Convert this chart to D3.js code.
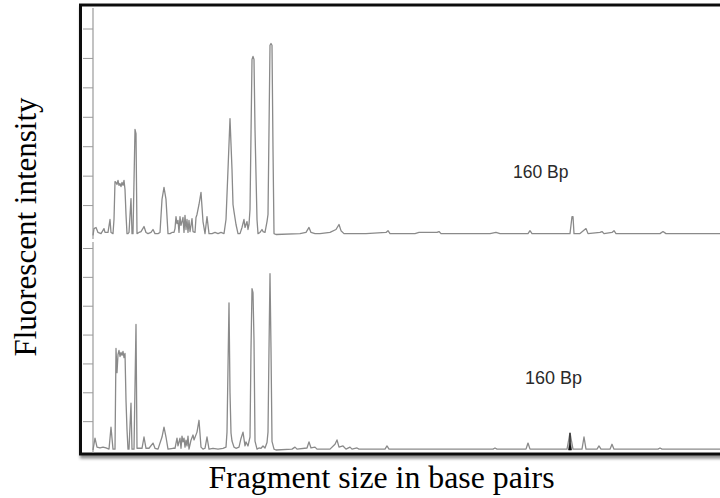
<!DOCTYPE html>
<html>
<head>
<meta charset="utf-8">
<script src="https://cdn.jsdelivr.net/npm/d3@7"></script>
<style>
  body { margin: 0; background: #fff; }
  svg { display: block; }
  .trace { fill: none; stroke: #8a8a8a; stroke-width: 1.3; stroke-linejoin: round; }
  .axis line, .axis path { stroke: #9a9a9a; }
</style>
</head>
<body>
<svg id="chart"></svg>
<script>
// tick values (RFU), no labels shown in the original
var tickValues = [1000, 2000, 3000, 4000, 5000, 6000, 7000];
var peakLabel = "160 Bp";

// top electropherogram: [scan point, intensity RFU]
var topTrace = [
  [0,-30],[1,200],[3,240],[5,70],[8,30],[11,200],[12,70],[15,70],[17,510],[18,70],[20,30],
  [21,510],[22,1800],[23,1770],[24,1700],[25,1840],[26,1670],[27,1730],[28,1630],[29,1770],[30,1670],[31,1840],[32,1530],[33,680],[34,30],[35,30],[36,70],[38,1220],[39,30],[40,30],[42,3570],[43,3430],[44,30],[46,70],
  [48,100],[51,270],[53,70],[55,30],[58,70],[60,170],[62,30],[65,30],[67,70],[69,1190],[71,1600],[73,1190],[75,30],[77,30],[79,70],
  [81,70],[82,200],[83,610],[84,370],[85,480],[86,70],[87,610],[88,310],[89,440],[90,580],[91,70],[92,650],[93,170],[94,510],[95,70],[96,480],[97,100],[98,310],[99,540],[100,100],[102,70],[103,580],[104,680],[106,1020],[108,1430],[110,440],[112,30],[114,610],[116,30],
  [119,30],[122,70],[125,30],[128,70],[131,30],
  [133,510],[135,2210],[137,3940],[139,2210],[140,1020],[141,780],[143,340],[145,30],[147,30],[149,240],[151,510],[152,240],[154,440],[155,170],[156,340],[157,850],[159,5950],[160,6050],[161,5950],[162,3570],[164,510],[165,30],[167,70],[169,170],[170,100],[172,70],[174,440],[175,680],[177,6430],[178,6490],[179,6430],[180,2890],[181,30],
  [183,0],[207,30],[213,70],[216,240],[218,70],[222,30],[227,30],[237,70],[243,170],[246,340],[248,130],[251,30],[257,30],[263,30],[273,30],[293,70],[295,130],[297,30],[322,30],[326,70],[344,70],[346,100],[348,30],[397,30],[403,70],[407,30],[435,30],[437,130],[439,30],[477,30],[479,610],[480,610],[481,30],[487,30],[493,200],[495,30],[507,70],[509,100],[511,30],[519,70],[521,130],[523,30],[567,30],[570,100],[573,30],[640,30]
];

// bottom electropherogram: [scan point, intensity RFU]
var bottomTrace = [
  [0,0],[2,410],[4,100],[7,70],[10,100],[13,70],[16,30],[18,790],[20,30],[22,30],
  [23,3520],[24,2680],[25,3310],[26,3450],[27,3240],[28,3380],[29,3280],[30,3420],[31,3200],[32,3350],[33,1720],[34,700],[35,30],[36,30],[38,1620],[39,30],[41,30],[43,4350],[44,60],[46,60],
  [49,60],[51,450],[53,60],[56,60],[60,240],[62,60],[65,30],[69,450],[71,790],[73,450],[75,30],[80,60],
  [82,60],[84,410],[85,140],[86,280],[87,410],[88,60],[89,480],[90,280],[91,410],[92,100],[93,340],[94,140],[95,480],[96,30],[98,340],[100,520],[101,350],[104,620],[106,1030],[108,100],[110,30],[112,60],[114,450],[116,30],
  [120,60],[125,30],[130,60],[133,100],
  [134,620],[136,5100],[137,2000],[138,590],[139,310],[141,100],[143,60],[146,100],[148,400],[150,620],[152,140],[153,280],[155,140],[157,450],[158,3500],[159,5590],[160,5450],[161,3800],[162,310],[164,30],[166,70],[168,60],[170,140],[172,70],[174,260],[175,620],[176,3500],[177,6110],[178,3500],[179,300],[181,30],
  [183,0],[199,30],[202,100],[204,30],[214,70],[216,280],[218,70],[222,100],[224,30],[237,30],[242,200],[244,350],[246,100],[250,140],[253,30],[257,100],[259,30],[264,70],[266,30],[292,30],[294,140],[296,30],[400,30],[402,70],[404,30],[433,30],[435,240],[437,30],[474,30],[477,590],[480,30],[489,30],[491,450],[493,30],[504,30],[506,140],[508,30],[517,30],[519,200],[521,30],[565,30],[567,70],[569,30],[640,30]
];

// the dark 160 bp peak in the bottom run
var bottomMarkedPeak = [[475.5,0],[476.5,250],[477,590],[477.5,250],[478.5,0]];

var width = 720, height = 498;
var svg = d3.select("#chart").attr("width", width).attr("height", height);

var x = d3.scaleLinear().domain([0, 640]).range([93, 733]);
var yTop = d3.scaleLinear().domain([0, 7000]).range([234.5, 28.5]);
var yBot = d3.scaleLinear().domain([0, 7000]).range([450, 248]);

var defs = svg.append("defs");
var shadow = defs.append("filter").attr("id", "shadow")
    .attr("x", "-5%").attr("y", "-5%").attr("width", "110%").attr("height", "110%");
shadow.append("feDropShadow").attr("dx", 1).attr("dy", 3)
    .attr("stdDeviation", 1.8).attr("flood-color", "#000").attr("flood-opacity", 0.45);

// frame
svg.append("rect")
    .attr("x", 80.5).attr("y", 5)
    .attr("width", 660).attr("height", 449)
    .attr("fill", "#fff")
    .attr("stroke", "#111")
    .attr("stroke-width", 3)
    .attr("filter", "url(#shadow)");

function drawPanel(y, data, top, bottom){
    var g = svg.append("g");
    g.append("line")
        .attr("x1", x(0)).attr("x2", x(0))
        .attr("y1", top).attr("y2", bottom)
        .attr("stroke", "#9a9a9a").attr("stroke-width", 1.2);

    g.append("g")
        .attr("class", "axis")
        .attr("transform", "translate(" + x(0) + ",0)")
        .call(d3.axisLeft(y).tickValues(tickValues).tickSize(10).tickSizeOuter(0).tickFormat(""))
        .call(function(a){ a.select(".domain").remove(); });

    var line = d3.line()
        .x(function(d){ return x(d[0]); })
        .y(function(d){ return y(d[1]); });

    g.append("path")
        .datum(data)
        .attr("class", "trace")
        .attr("d", line);
    return g;
}

drawPanel(yTop, topTrace, 8, 239);
var bot = drawPanel(yBot, bottomTrace, 242, 453);

bot.append("path")
    .datum(bottomMarkedPeak)
    .attr("fill", "#111")
    .attr("stroke", "#111")
    .attr("stroke-width", 0.6)
    .attr("d", d3.area()
        .x(function(d){ return x(d[0]); })
        .y0(yBot(0))
        .y1(function(d){ return yBot(d[1]); }));

// peak labels
svg.append("text")
    .attr("x", 513).attr("y", 178)
    .attr("font-family", "Liberation Sans, Arial, sans-serif")
    .attr("font-size", 17.5)
    .attr("fill", "#2a2a2a")
    .text(peakLabel);

svg.append("text")
    .attr("x", 525).attr("y", 384)
    .attr("font-family", "Liberation Sans, Arial, sans-serif")
    .attr("font-size", 18)
    .attr("fill", "#2a2a2a")
    .text(peakLabel);

// axis titles
svg.append("text")
    .attr("transform", "translate(36,227) rotate(-90)")
    .attr("text-anchor", "middle")
    .attr("font-family", "Liberation Serif, Times New Roman, serif")
    .attr("font-size", 31)
    .attr("fill", "#000")
    .text("Fluorescent intensity");

svg.append("text")
    .attr("x", 381.5).attr("y", 488)
    .attr("text-anchor", "middle")
    .attr("font-family", "Liberation Serif, Times New Roman, serif")
    .attr("font-size", 31.8)
    .attr("fill", "#000")
    .text("Fragment size in base pairs");
</script>
</body>
</html>
